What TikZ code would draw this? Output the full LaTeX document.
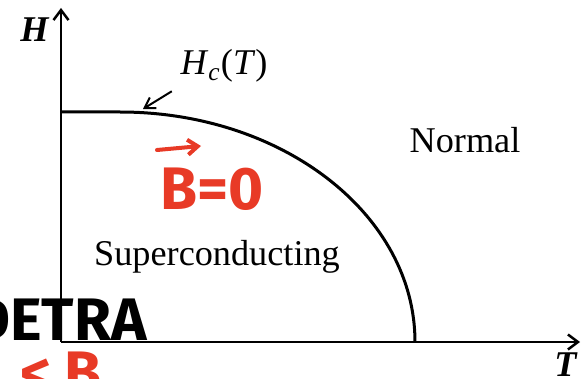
\documentclass[tikz,border=0pt]{standalone}
\usepackage{fontspec}
\setmainfont{Liberation Serif}
\newfontfamily\handfont{Fira Sans}
\usetikzlibrary{arrows.meta, positioning}
\definecolor{handred}{RGB}{232,58,38}

\begin{document}
\begin{tikzpicture}[
  x=0.4pt, y=-0.4pt,
  axis/.style={line width=1pt, -{Straight Barb[length=4pt, width=6pt]}},
  lbl/.style={font=\fontsize{14.5}{16}\selectfont},
  note/.style={font=\handfont\bfseries\fontsize{24}{26}\selectfont, inner sep=0pt}
]
  \useasboundingbox (0,0) rectangle (586,379);
  \clip (0,0) rectangle (586,379);
  % axes
  \coordinate (o)    at (61,342);
  \coordinate (htop) at (61,8);
  \coordinate (tend) at (580,342);
  \draw[axis] (o) -- (htop);
  \draw[axis] (o) -- (tend);
  \node[lbl] (hlab) at (35,30)  {\textbf{\textit{H}}};
  \node[lbl] (tlab) at (566,365) {\textbf{\textit{T}}};
  % critical field curve
  \coordinate (hc0) at (61,112);
  \coordinate (tc)  at (415,342);
  \draw[line width=1.2pt] (hc0) -- (120,112)
    .. controls (283,112) and (415,215) .. (tc);
  \node[lbl] (hclab) at (224,66) {\textit{H}\textsubscript{\textit{c}}(\textit{T})};
  \coordinate (hcpt) at (143,109);
  \draw[line width=0.8pt, -{Straight Barb[length=4pt, width=5pt]}] (hclab.south west) -- (hcpt);
  % phases
  \node[lbl] (normal) at (465,140) {Normal};
  \node[lbl] (super)  at (217,257) {Superconducting};
  % handwritten notes
  \node[note, text=handred] (bzero) at (212,189) {B=0};
  \coordinate (vtail) at (157,150);
  \coordinate (vhead) at (201,146);
  \draw[handred, line width=1.6pt, line cap=round, -{Straight Barb[length=4pt, width=6pt]}] (vtail) -- (vhead);
  \node[note, anchor=south east] (detra) at (147,341) {DETRA};
  \node[note, text=handred, anchor=north east] (ltb) at (102,351) {<\hspace{5pt}B};
\end{tikzpicture}
\end{document}
